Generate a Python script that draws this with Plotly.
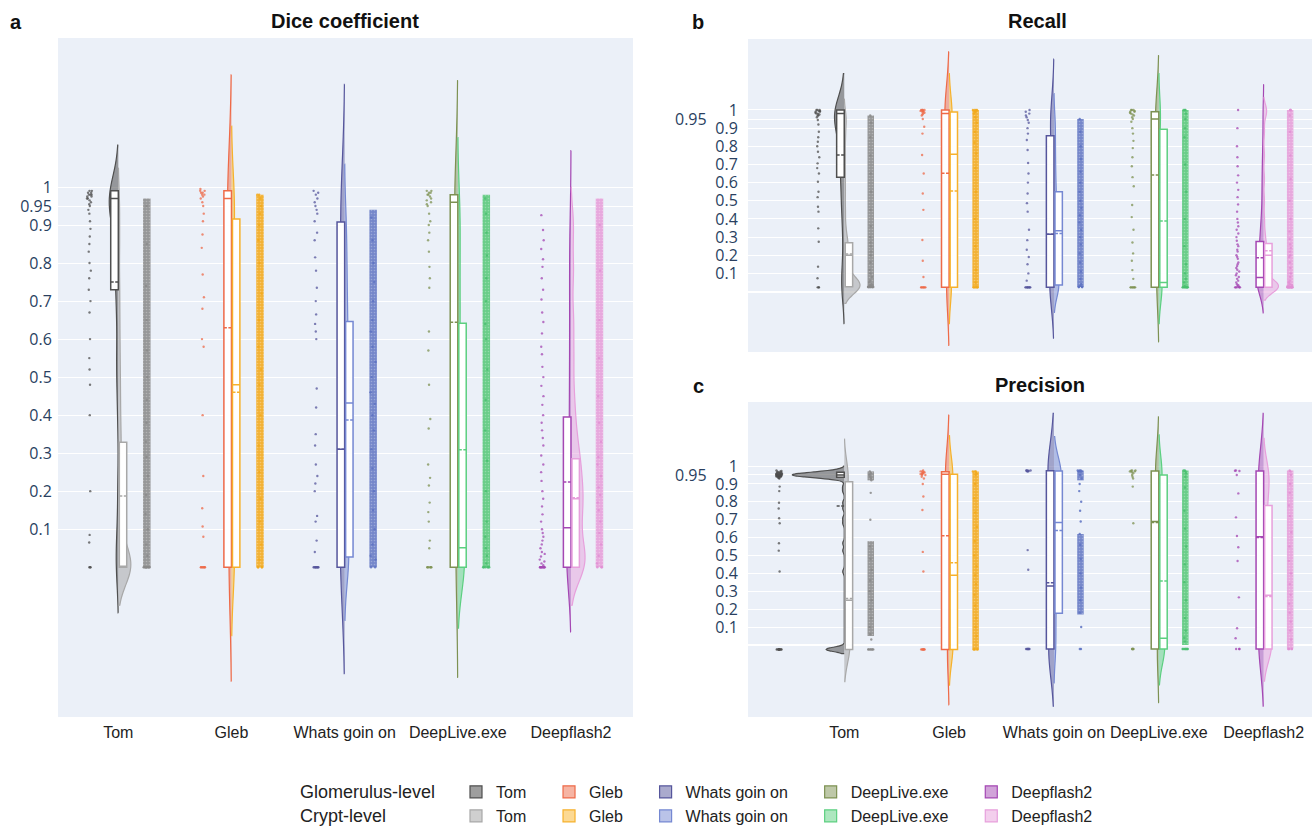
import plotly.graph_objects as go

# ---------------- data ----------------
MODELS = ["Tom", "Gleb", "Whats goin on", "DeepLive.exe", "Deepflash2"]
Y_TICK_VALUES = [0.1, 0.2, 0.3, 0.4, 0.5, 0.6, 0.7, 0.8, 0.9, 0.95, 1.0]
Y_TICK_LABELS = ["0.1", "0.2", "0.3", "0.4", "0.5", "0.6", "0.7", "0.8", "0.9", "0.95", "1"]

# Dice coefficient - box statistics
DICE_GLOM_Q1 = [0.73, 0.0, 0.0, 0.0, 0.0]
DICE_GLOM_MEDIAN = [0.97, 0.97, 0.31, 0.96, 0.104]
DICE_GLOM_Q3 = [0.99, 0.99, 0.908, 0.98, 0.395]
DICE_GLOM_MEAN = [0.75, 0.63, 0.31, 0.644, 0.224]
DICE_CRYPT_Q1 = [0.0, 0.0, 0.027, 0.0, 0.0]
DICE_CRYPT_MEDIAN = [0.0, 0.48, 0.432, 0.051, 0.18]
DICE_CRYPT_Q3 = [0.329, 0.916, 0.646, 0.642, 0.285]
DICE_CRYPT_MEAN = [0.187, 0.46, 0.387, 0.309, 0.183]

# Recall - box statistics
RECALL_GLOM_Q1 = [0.629, 0.023, 0.023, 0.023, 0.023]
RECALL_GLOM_MEDIAN = [0.98, 0.98, 0.315, 0.95, 0.078]
RECALL_GLOM_Q3 = [1.0, 1.0, 0.858, 0.99, 0.275]
RECALL_GLOM_MEAN = [0.752, 0.651, 0.315, 0.642, 0.186]
RECALL_CRYPT_Q1 = [0.026, 0.023, 0.036, 0.023, 0.023]
RECALL_CRYPT_MEDIAN = [0.2, 0.756, 0.335, 0.05, 0.2]
RECALL_CRYPT_Q3 = [0.269, 0.989, 0.55, 0.894, 0.265]
RECALL_CRYPT_MEAN = [0.207, 0.554, 0.32, 0.388, 0.225]

# Precision - box statistics
PRECISION_GLOM_Q1 = [0.937, -0.025, -0.023, -0.023, -0.023]
PRECISION_GLOM_MEDIAN = [0.95, 0.954, 0.33, 0.69, 0.605]
PRECISION_GLOM_Q3 = [0.965, 0.968, 0.974, 0.972, 0.972]
PRECISION_GLOM_MEAN = [0.776, 0.61, 0.348, 0.685, 0.6]
PRECISION_CRYPT_Q1 = [-0.025, -0.025, 0.177, -0.023, -0.023]
PRECISION_CRYPT_MEDIAN = [0.25, 0.39, 0.685, 0.037, 0.277]
PRECISION_CRYPT_Q3 = [0.912, 0.954, 0.972, 0.95, 0.78]
PRECISION_CRYPT_MEAN = [0.26, 0.46, 0.64, 0.357, 0.27]

# Glomerulus-level per-image scores (sparse strips)
DICE_GLOM_VALUES = [
    [0.99, 0.99, 0.985, 0.985, 0.98, 0.98, 0.98, 0.975, 0.975, 0.97, 0.97, 0.965, 0.96, 0.955, 0.95, 0.94, 0.93,
     0.91, 0.89, 0.87, 0.85, 0.83, 0.8, 0.78, 0.76, 0.73, 0.7, 0.67, 0.6, 0.55, 0.52, 0.48, 0.4, 0.2, 0.085,
     0.065, 0.0, 0.0, 0.0],
    [0.995, 0.99, 0.99, 0.985, 0.985, 0.98, 0.98, 0.975, 0.97, 0.96, 0.95, 0.93, 0.91, 0.875, 0.84, 0.77, 0.71,
     0.68, 0.6, 0.58, 0.4, 0.24, 0.155, 0.107, 0.08, 0.0, 0.0, 0.0, 0.0, 0.0, 0.0, 0.0],
    [0.99, 0.985, 0.98, 0.97, 0.96, 0.95, 0.94, 0.93, 0.91, 0.88, 0.86, 0.815, 0.78, 0.735, 0.7, 0.665, 0.64,
     0.62, 0.6, 0.47, 0.42, 0.35, 0.32, 0.27, 0.24, 0.22, 0.2, 0.135, 0.12, 0.07, 0.04, 0.0, 0.0, 0.0, 0.0, 0.0,
     0.0, 0.0, 0.0, 0.0],
    [0.99, 0.99, 0.985, 0.985, 0.98, 0.98, 0.975, 0.97, 0.965, 0.96, 0.955, 0.95, 0.93, 0.91, 0.9, 0.88, 0.86,
     0.83, 0.79, 0.76, 0.735, 0.62, 0.57, 0.48, 0.39, 0.365, 0.27, 0.235, 0.215, 0.17, 0.145, 0.12, 0.07, 0.05,
     0.0, 0.0, 0.0, 0.0, 0.0, 0.0],
    [0.926, 0.887, 0.86, 0.837, 0.81, 0.79, 0.76, 0.73, 0.704, 0.67, 0.645, 0.615, 0.58, 0.56, 0.527, 0.5,
     0.477, 0.45, 0.427, 0.4, 0.38, 0.36, 0.34, 0.32, 0.294, 0.27, 0.25, 0.227, 0.2, 0.18, 0.16, 0.139, 0.12,
     0.1, 0.09, 0.08, 0.07, 0.06, 0.05, 0.04, 0.035, 0.028, 0.02, 0.015, 0.01, 0.005, 0.0, 0.0, 0.0, 0.0, 0.0,
     0.0, 0.0, 0.0, 0.0, 0.0],
]
RECALL_GLOM_VALUES = [
    [1.0, 1.0, 1.0, 0.995, 0.995, 0.99, 0.99, 0.985, 0.98, 0.98, 0.975, 0.97, 0.97, 0.96, 0.945, 0.92, 0.88,
     0.85, 0.825, 0.8, 0.77, 0.74, 0.706, 0.68, 0.65, 0.605, 0.55, 0.52, 0.467, 0.44, 0.348, 0.274, 0.137,
     0.073, 0.023, 0.023, 0.023],
    [1.0, 1.0, 1.0, 1.0, 0.995, 0.995, 0.99, 0.99, 0.985, 0.98, 0.975, 0.97, 0.95, 0.908, 0.87, 0.752, 0.65,
     0.54, 0.45, 0.284, 0.17, 0.08, 0.023, 0.023, 0.023, 0.023, 0.023, 0.023, 0.023],
    [1.0, 0.99, 0.98, 0.97, 0.96, 0.945, 0.93, 0.9, 0.87, 0.835, 0.78, 0.708, 0.65, 0.6, 0.54, 0.487, 0.44,
     0.34, 0.283, 0.23, 0.19, 0.15, 0.1, 0.06, 0.023, 0.023, 0.023, 0.023, 0.023, 0.023, 0.023, 0.023, 0.023],
    [1.0, 1.0, 1.0, 0.995, 0.99, 0.99, 0.985, 0.98, 0.975, 0.97, 0.96, 0.95, 0.935, 0.9, 0.87, 0.83, 0.79,
     0.74, 0.69, 0.63, 0.58, 0.477, 0.41, 0.34, 0.27, 0.21, 0.17, 0.118, 0.07, 0.023, 0.023, 0.023, 0.023,
     0.023, 0.023, 0.023],
    [1.0, 0.9, 0.8, 0.74, 0.69, 0.64, 0.6, 0.56, 0.52, 0.48, 0.44, 0.4, 0.38, 0.36, 0.34, 0.32, 0.3, 0.28,
     0.26, 0.25, 0.23, 0.22, 0.2, 0.19, 0.18, 0.16, 0.15, 0.14, 0.13, 0.12, 0.11, 0.1, 0.09, 0.08, 0.07, 0.06,
     0.05, 0.04, 0.035, 0.03, 0.025, 0.023, 0.023, 0.023, 0.023, 0.023],
]
PRECISION_GLOM_VALUES = [
    [0.975, 0.972, 0.97, 0.968, 0.966, 0.965, 0.963, 0.962, 0.96, 0.96, 0.958, 0.957, 0.956, 0.955, 0.955,
     0.954, 0.953, 0.952, 0.951, 0.95, 0.95, 0.95, 0.95, 0.95, 0.95, 0.95, 0.95, 0.949, 0.948, 0.948, 0.947,
     0.946, 0.945, 0.945, 0.944, 0.943, 0.942, 0.941, 0.94, 0.94, 0.938, 0.937, 0.935, 0.933, 0.93, 0.885,
     0.86, 0.795, 0.763, 0.708, 0.68, 0.568, 0.527, 0.41, -0.025, -0.025, -0.025, -0.025, -0.025, -0.025,
     -0.025, -0.025, -0.025, -0.025, -0.025, -0.025],
    [0.975, 0.97, 0.97, 0.965, 0.965, 0.96, 0.96, 0.955, 0.955, 0.95, 0.95, 0.94, 0.93, 0.9, 0.83, 0.754,
     0.52, 0.41, -0.025, -0.025, -0.025, -0.025, -0.025, -0.025, -0.025],
    [0.975, 0.975, 0.975, 0.974, 0.974, 0.972, 0.97, 0.97, 0.53, 0.42, -0.023, -0.023, -0.023, -0.023,
     -0.023, -0.023, -0.023],
    [0.975, 0.975, 0.974, 0.97, 0.97, 0.965, 0.96, 0.95, 0.94, 0.93, 0.885, 0.68, -0.023, -0.023, -0.023,
     -0.023, -0.023],
    [0.975, 0.974, 0.972, 0.95, 0.847, 0.713, 0.609, 0.546, 0.469, 0.266, 0.093, 0.037, -0.023, -0.023,
     -0.023],
]

# Crypt-level: representative scores (shape of the distributions)
DICE_CRYPT_VALUES = [
    [0.0, 0.0, 0.0, 0.0, 0.0, 0.0, 0.0, 0.0, 0.0, 0.0, 0.03, 0.06, 0.1, 0.14, 0.19, 0.24, 0.29, 0.33, 0.38,
     0.44, 0.5, 0.57, 0.65, 0.74, 0.85, 0.95],
    [0.0, 0.0, 0.0, 0.0, 0.02, 0.06, 0.12, 0.18, 0.25, 0.32, 0.4, 0.48, 0.52, 0.58, 0.65, 0.72, 0.8, 0.86,
     0.9, 0.93, 0.95, 0.97, 0.98, 0.98],
    [0.0, 0.0, 0.02, 0.03, 0.06, 0.1, 0.15, 0.2, 0.26, 0.31, 0.36, 0.4, 0.43, 0.46, 0.5, 0.54, 0.58, 0.62,
     0.65, 0.7, 0.75, 0.8, 0.86, 0.92],
    [0.0, 0.0, 0.0, 0.0, 0.0, 0.0, 0.01, 0.03, 0.05, 0.08, 0.12, 0.2, 0.28, 0.36, 0.44, 0.52, 0.6, 0.64, 0.7,
     0.76, 0.82, 0.88, 0.93, 0.97],
    [0.0, 0.0, 0.0, 0.01, 0.03, 0.06, 0.09, 0.12, 0.15, 0.17, 0.19, 0.21, 0.24, 0.27, 0.29, 0.33, 0.38, 0.45,
     0.55, 0.65, 0.78, 0.9],
]
RECALL_CRYPT_VALUES = [
    [0.025, 0.025, 0.025, 0.025, 0.025, 0.025, 0.025, 0.025, 0.025, 0.025, 0.03, 0.035, 0.04, 0.05, 0.06,
     0.08, 0.1, 0.12, 0.16, 0.2, 0.22, 0.25, 0.27, 0.3, 0.36, 0.45, 0.55, 0.65, 0.75, 0.85, 0.93, 0.97],
    [0.023, 0.023, 0.023, 0.023, 0.023, 0.023, 0.05, 0.12, 0.25, 0.4, 0.55, 0.68, 0.76, 0.82, 0.88, 0.93,
     0.96, 0.98, 0.99, 0.99, 1.0, 1.0, 1.0, 1.0],
    [0.025, 0.025, 0.025, 0.025, 0.03, 0.04, 0.07, 0.11, 0.16, 0.21, 0.26, 0.3, 0.34, 0.38, 0.42, 0.46, 0.5,
     0.55, 0.6, 0.66, 0.73, 0.8, 0.88, 0.95],
    [0.023, 0.023, 0.023, 0.023, 0.023, 0.023, 0.023, 0.023, 0.03, 0.05, 0.07, 0.1, 0.15, 0.25, 0.4, 0.55,
     0.7, 0.85, 0.9, 0.95, 0.98, 1.0, 1.0, 1.0],
    [0.023, 0.023, 0.023, 0.023, 0.023, 0.023, 0.023, 0.023, 0.023, 0.023, 0.023, 0.023, 0.025, 0.028,
     0.03, 0.035, 0.04, 0.05, 0.06, 0.08, 0.1, 0.13, 0.16, 0.19, 0.2, 0.22, 0.24, 0.26, 0.29, 0.33, 0.4,
     0.5, 0.62, 0.75, 0.88, 0.97, 1.0, 1.0, 1.0],
]
PRECISION_CRYPT_VALUES = [
    [-0.025, -0.025, -0.025, -0.025, -0.025, -0.025, -0.025, 0.03, 0.06, 0.1, 0.15, 0.2, 0.25, 0.3, 0.36,
     0.42, 0.48, 0.55, 0.7, 0.85, 0.92, 0.93, 0.94, 0.95, 0.96, 0.97],
    [-0.025, -0.025, -0.025, -0.025, -0.025, 0.05, 0.1, 0.15, 0.22, 0.28, 0.34, 0.39, 0.44, 0.5, 0.58, 0.66,
     0.74, 0.82, 0.9, 0.95, 0.96, 0.97, 0.97, 0.97],
    [-0.023, -0.023, 0.1, 0.18, 0.25, 0.32, 0.4, 0.48, 0.56, 0.62, 0.69, 0.75, 0.8, 0.86, 0.9, 0.93, 0.95,
     0.97, 0.97, 0.97, 0.97, 0.975, 0.975, 0.975],
    [-0.023, -0.023, -0.023, -0.023, -0.023, -0.023, -0.023, -0.023, 0.02, 0.04, 0.08, 0.15, 0.25, 0.35,
     0.45, 0.55, 0.65, 0.75, 0.88, 0.94, 0.96, 0.97, 0.975, 0.975],
    [-0.023, -0.023, -0.023, -0.023, -0.023, 0.03, 0.08, 0.13, 0.18, 0.23, 0.28, 0.34, 0.4, 0.47, 0.55, 0.63,
     0.72, 0.78, 0.85, 0.9, 0.95, 0.97, 0.975],
]

# Crypt-level dense strip extents [low, high] per model
DICE_CRYPT_DENSE = [[[0.0, 0.97]], [[0.0, 0.98]], [[0.0, 0.94]], [[0.0, 0.98]], [[0.0, 0.97]]]
RECALL_CRYPT_DENSE = [[[0.025, 0.97]], [[0.023, 1.0]], [[0.025, 0.95]], [[0.023, 1.0]], [[0.023, 1.0]]]
PRECISION_CRYPT_DENSE = [[[0.92, 0.97], [0.05, 0.58]], [[-0.025, 0.97]], [[0.92, 0.975], [0.17, 0.62]],
                         [[0.0, 0.975]], [[-0.02, 0.975]]]

# ---------------- styles ----------------
GLOM_LINE = ["#4f4f4f", "#ee6a48", "#56569c", "#7d9152", "#a447b3"]
GLOM_FILL = ["rgba(79,79,79,0.55)", "rgba(238,106,72,0.5)", "rgba(86,86,156,0.5)",
             "rgba(125,145,82,0.5)", "rgba(164,71,179,0.5)"]
CRYPT_LINE = ["#a8a8a8", "#f6b12c", "#7588d2", "#5ccf80", "#e7a0dc"]
CRYPT_FILL = ["rgba(168,168,168,0.55)", "rgba(250,180,40,0.5)", "rgba(117,136,210,0.5)",
              "rgba(92,207,128,0.5)", "rgba(231,160,220,0.5)"]
CRYPT_STRIP = ["rgba(135,135,135,0.85)", "rgba(243,173,38,0.92)", "rgba(100,120,196,0.88)",
               "rgba(88,200,122,0.88)", "rgba(230,155,216,0.85)"]
CRYPT_PT = ["#8a8a8a", "#f2a91c", "#5d72c2", "#49c070", "#e08fd4"]

W = 1312
H = 826
FONT_TXT = "Liberation Sans, Arial, sans-serif"
BG = "#EBF0F8"

BW_DICE_GLOM = [0.06, 0.15, 0.14, 0.145, 0.085]
BW_DICE_CRYPT = [0.05, 0.09, 0.07, 0.08, 0.05]
BW_RECALL_GLOM = [0.1, 0.16, 0.14, 0.15, 0.07]
BW_RECALL_CRYPT = [0.045, 0.1, 0.07, 0.1, 0.035]
BW_PRECISION_GLOM = [0.012, 0.155, 0.16, 0.15, 0.16]
BW_PRECISION_CRYPT = [0.09, 0.1, 0.095, 0.1, 0.09]

# half-width of violins in pixels
VW_DICE_GLOM = [9, 4, 4.3, 3.2, 4.3]
VW_DICE_CRYPT = [12.4, 3, 4.2, 6.7, 14]
VW_RECALL_GLOM = [9.7, 4.3, 4.3, 3.3, 7]
VW_RECALL_CRYPT = [15.7, 3, 5, 3.3, 14.7]
VW_PRECISION_GLOM = [52, 3.7, 6, 3.3, 5.3]
VW_PRECISION_CRYPT = [5.7, 4, 7.3, 6, 8]

NBSP = "\u00a0"
fig = go.Figure()


def add_panel(xa, ya, ppu, glom_vals, glom_box, glom_bw, glom_vw, crypt_vals, crypt_box, crypt_bw,
              crypt_vw, crypt_dense, glom_pt_px, crypt_pt_px, strip_px, legend):
    for i, name in enumerate(MODELS):
        c = i
        lname = name + NBSP * 4
        # crypt strip (dense part)
        for lo, hi in crypt_dense[i]:
            fig.add_trace(go.Bar(
                x=[c + crypt_pt_px / ppu], y=[hi - lo], base=[lo], width=strip_px / ppu,
                marker=dict(color=CRYPT_STRIP[i], line=dict(width=0),
                            pattern=dict(shape=".", fgcolor="rgba(255,255,255,0.55)", size=3,
                                         solidity=0.22, fillmode="overlay")),
                xaxis=xa, yaxis=ya, showlegend=False, hoverinfo="skip"))
        # violins
        fig.add_trace(go.Violin(
            x=[c] * len(glom_vals[i]), y=glom_vals[i], side="negative", width=2 * glom_vw[i] / ppu,
            bandwidth=glom_bw[i], scalemode="width", scalegroup=f"{xa}g{i}", spanmode="soft",
            points=False, line=dict(color=GLOM_LINE[i], width=1.2), fillcolor=GLOM_FILL[i],
            name=lname, showlegend=legend, legend="legend", legendrank=i,
            xaxis=xa, yaxis=ya, hoverinfo="skip"))
        fig.add_trace(go.Violin(
            x=[c] * len(crypt_vals[i]), y=crypt_vals[i], side="positive", width=2 * crypt_vw[i] / ppu,
            bandwidth=crypt_bw[i], scalemode="width", scalegroup=f"{xa}c{i}", spanmode="soft",
            points=False, line=dict(color=CRYPT_LINE[i], width=1.2), fillcolor=CRYPT_FILL[i],
            name=lname, showlegend=legend, legend="legend2", legendrank=i,
            xaxis=xa, yaxis=ya, hoverinfo="skip"))
        # boxes
        q1, med, q3, mean = glom_box
        fig.add_trace(go.Box(
            x=[c - 3.8 / ppu], q1=[q1[i]], median=[med[i]], q3=[q3[i]], lowerfence=[q1[i]],
            upperfence=[q3[i]], mean=[mean[i]], boxmean=True, width=7.6 / ppu, fillcolor="white",
            line=dict(color=GLOM_LINE[i], width=1.5), boxpoints=False, whiskerwidth=0,
            xaxis=xa, yaxis=ya, showlegend=False, hoverinfo="skip"))
        q1, med, q3, mean = crypt_box
        fig.add_trace(go.Box(
            x=[c + 4.7 / ppu], q1=[q1[i]], median=[med[i]], q3=[q3[i]], lowerfence=[q1[i]],
            upperfence=[q3[i]], mean=[mean[i]], boxmean=True, width=7.4 / ppu, fillcolor="white",
            line=dict(color=CRYPT_LINE[i], width=1.5), boxpoints=False, whiskerwidth=0,
            xaxis=xa, yaxis=ya, showlegend=False, hoverinfo="skip"))
        # strips of points
        gx = c + glom_pt_px[i] / ppu
        fig.add_trace(go.Box(
            x=[gx] * len(glom_vals[i]), y=glom_vals[i], boxpoints="all", jitter=1, pointpos=0,
            width=6 / ppu, fillcolor="rgba(0,0,0,0)", line=dict(color="rgba(0,0,0,0)", width=0),
            whiskerwidth=0, marker=dict(size=2.4, color=GLOM_LINE[i], opacity=0.75),
            xaxis=xa, yaxis=ya, showlegend=False, hoverinfo="skip"))
        cx = c + crypt_pt_px / ppu
        fig.add_trace(go.Box(
            x=[cx] * len(crypt_vals[i]), y=crypt_vals[i], boxpoints="all", jitter=1, pointpos=0,
            width=strip_px / ppu, fillcolor="rgba(0,0,0,0)", line=dict(color="rgba(0,0,0,0)", width=0),
            whiskerwidth=0, marker=dict(size=2.4, color=CRYPT_PT[i], opacity=0.85),
            xaxis=xa, yaxis=ya, showlegend=False, hoverinfo="skip"))


PPU_A = 113.18
PPU_BC = 104.85

add_panel("x", "y", PPU_A, DICE_GLOM_VALUES,
          (DICE_GLOM_Q1, DICE_GLOM_MEDIAN, DICE_GLOM_Q3, DICE_GLOM_MEAN), BW_DICE_GLOM, VW_DICE_GLOM,
          DICE_CRYPT_VALUES, (DICE_CRYPT_Q1, DICE_CRYPT_MEDIAN, DICE_CRYPT_Q3, DICE_CRYPT_MEAN),
          BW_DICE_CRYPT, VW_DICE_CRYPT, DICE_CRYPT_DENSE, [-28.5] * 5, 28.5, 7.5, True)
add_panel("x2", "y2", PPU_BC, RECALL_GLOM_VALUES,
          (RECALL_GLOM_Q1, RECALL_GLOM_MEDIAN, RECALL_GLOM_Q3, RECALL_GLOM_MEAN), BW_RECALL_GLOM,
          VW_RECALL_GLOM, RECALL_CRYPT_VALUES,
          (RECALL_CRYPT_Q1, RECALL_CRYPT_MEDIAN, RECALL_CRYPT_Q3, RECALL_CRYPT_MEAN),
          BW_RECALL_CRYPT, VW_RECALL_CRYPT, RECALL_CRYPT_DENSE, [-26] * 5, 26.5, 6.5, False)
add_panel("x3", "y3", PPU_BC, PRECISION_GLOM_VALUES,
          (PRECISION_GLOM_Q1, PRECISION_GLOM_MEDIAN, PRECISION_GLOM_Q3, PRECISION_GLOM_MEAN),
          BW_PRECISION_GLOM, VW_PRECISION_GLOM, PRECISION_CRYPT_VALUES,
          (PRECISION_CRYPT_Q1, PRECISION_CRYPT_MEDIAN, PRECISION_CRYPT_Q3, PRECISION_CRYPT_MEAN),
          BW_PRECISION_CRYPT, VW_PRECISION_CRYPT, PRECISION_CRYPT_DENSE, [-65, -26, -26, -26, -26], 26.5,
          6.5, False)


def px_x(p):
    return p / W


def px_y(p):
    return 1 - p / H


ytick_font = dict(family="Open Sans, sans-serif", size=16, color="#2a3f5f")
xtick_font = dict(family=FONT_TXT, size=16, color="#222222")
# in panels b and c the 0.95 label is set off to the left (drawn as an annotation below)
tt_bc = [t if t != "0.95" else "" for t in Y_TICK_LABELS]

common_y = dict(tickvals=Y_TICK_VALUES, showgrid=True, gridcolor="white", gridwidth=1, showline=False,
                tickfont=ytick_font, fixedrange=True, ticks="outside", tickcolor="rgba(0,0,0,0)")
common_x = dict(type="linear", tickvals=[0, 1, 2, 3, 4], ticktext=MODELS, showgrid=False, zeroline=False,
                showline=False, tickfont=xtick_font, fixedrange=True, ticks="outside", ticklen=1,
                tickcolor="rgba(0,0,0,0)")

fig.update_layout(
    width=W, height=H, margin=dict(l=0, r=0, t=0, b=0, autoexpand=False),
    paper_bgcolor="white", plot_bgcolor=BG,
    violinmode="overlay", boxmode="overlay", barmode="overlay",
    hovermode=False,
    xaxis=dict(domain=[px_x(58), px_x(633)], range=[-0.533, 4.548], anchor="y", **common_x),
    yaxis=dict(domain=[px_y(717), px_y(38)], range=[-0.394, 1.392], anchor="x", zeroline=False,
               ticktext=Y_TICK_LABELS, ticklen=2, **common_y),
    xaxis2=dict(domain=[px_x(748), 1.0], range=[-0.918, 4.461], anchor="y2", showticklabels=False,
                **common_x),
    yaxis2=dict(domain=[px_y(352), px_y(39)], range=[-0.333, 1.391], anchor="x2", zeroline=True,
                zerolinecolor="white", zerolinewidth=2, ticktext=tt_bc, ticklen=6, **common_y),
    xaxis3=dict(domain=[px_x(748), 1.0], range=[-0.918, 4.461], anchor="y3", **common_x),
    yaxis3=dict(domain=[px_y(717), px_y(402)], range=[-0.403, 1.358], anchor="x3", zeroline=True,
                zerolinecolor="white", zerolinewidth=2, ticktext=tt_bc, ticklen=6, **common_y),
    legend=dict(orientation="h", x=px_x(456), y=px_y(792), xanchor="left", yanchor="middle",
                font=dict(family=FONT_TXT, size=16, color="#222222"), bgcolor="rgba(0,0,0,0)",
                traceorder="normal", itemclick=False, itemdoubleclick=False),
    legend2=dict(orientation="h", x=px_x(456), y=px_y(816), xanchor="left", yanchor="middle",
                 font=dict(family=FONT_TXT, size=16, color="#222222"), bgcolor="rgba(0,0,0,0)",
                 traceorder="normal", itemclick=False, itemdoubleclick=False),
)

# offset "0.95" tick labels of panels b and c
for yref in ("y2", "y3"):
    fig.add_annotation(text="0.95", x=px_x(709), y=0.95, xref="paper", yref=yref, xanchor="right",
                       yanchor="middle", showarrow=False, font=ytick_font)

annots = [
    ("<b>Dice coefficient</b>", 345, 21, "center", 20),
    ("<b>Recall</b>", 1037, 21, "center", 20),
    ("<b>Precision</b>", 1040, 385, "center", 20),
    ("<b>a</b>", 16, 22, "center", 20),
    ("<b>b</b>", 698, 22, "center", 20),
    ("<b>c</b>", 698, 386, "center", 20),
    ("Glomerulus-level", 298, 792, "left", 18),
    ("Crypt-level", 298, 816, "left", 18),
]
for text, ax, ay, anchor, size in annots:
    fig.add_annotation(text=text, x=px_x(ax), y=px_y(ay), xref="paper", yref="paper", xanchor=anchor,
                       yanchor="middle", showarrow=False,
                       font=dict(family=FONT_TXT, size=size, color="#111111" if size == 20 else "#222222"))

fig.write_html("out.html", config={"displayModeBar": False},
               post_script="document.body.style.margin='0';document.body.style.overflow='hidden';")
